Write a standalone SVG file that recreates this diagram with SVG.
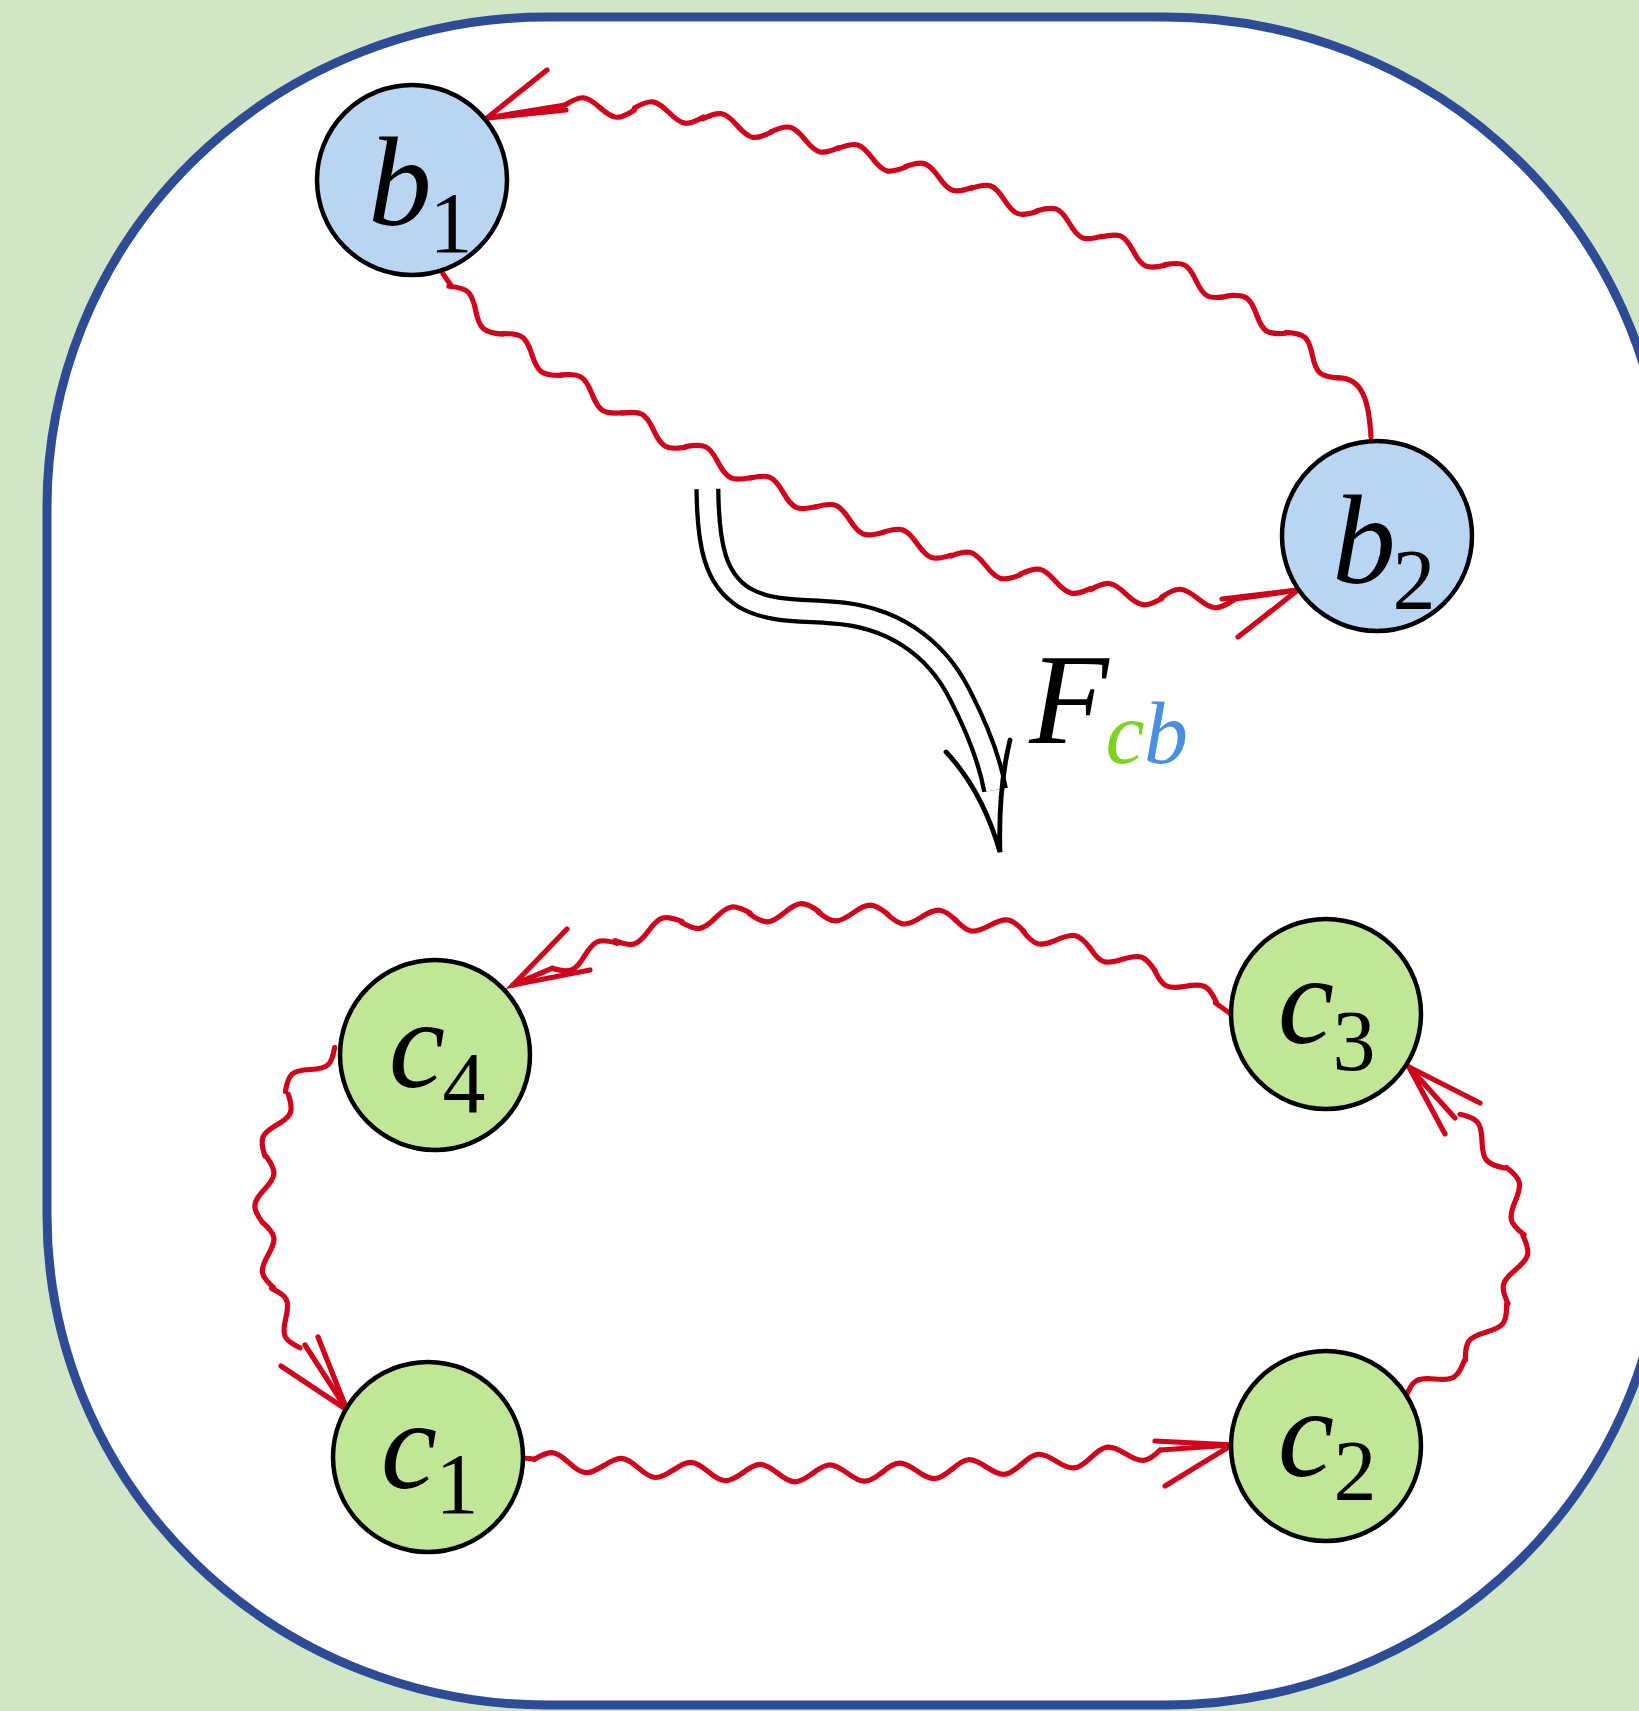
<svg xmlns="http://www.w3.org/2000/svg" width="1639" height="1711" viewBox="0 0 1639 1711">
<style>
.bg{fill:#d0e6c6}
.frame{fill:#ffffff;stroke:#2e4b96;stroke-width:9}
.nb{fill:#b9d5f3;stroke:#000;stroke-width:4.5}
.nc{fill:#c1e697;stroke:#000;stroke-width:4.5}
.lbl{font-family:"Liberation Serif","DejaVu Serif",serif;font-style:italic;fill:#000}
.sub{font-family:"Liberation Serif","DejaVu Serif",serif;fill:#000}
.wave{fill:none;stroke:#d0021b;stroke-width:5.2;stroke-linecap:round;stroke-linejoin:round}
.base{fill:none;stroke:none}
.tail{fill:none;stroke:#d0021b;stroke-width:5.2;stroke-linecap:round}
.head{fill:none;stroke:#d0021b;stroke-width:5.2;stroke-linecap:round;stroke-linejoin:miter}
.dblo{fill:none;stroke:#000;stroke-width:26}
.dbli{fill:none;stroke:#fff;stroke-width:17.5}
.dblh{fill:none;stroke:#000;stroke-width:4.8;stroke-linecap:round;stroke-linejoin:miter}
</style>
<defs>
<marker id="w69L" markerUnits="userSpaceOnUse" orient="auto" viewBox="-50 -50 100 100" markerWidth="100" markerHeight="100" refX="0" refY="0" overflow="visible"><path class="wave" d="M-34.7,0 C-19.97,-11.33 -14.73,-11.33 0,0 S19.97,11.33 34.7,0"/></marker>
<marker id="w69R" markerUnits="userSpaceOnUse" orient="auto" viewBox="-50 -50 100 100" markerWidth="100" markerHeight="100" refX="0" refY="0" overflow="visible"><path class="wave" d="M-34.7,0 C-19.97,11.33 -14.73,11.33 0,0 S19.97,-11.33 34.7,0"/></marker>
<marker id="w66L" markerUnits="userSpaceOnUse" orient="auto" viewBox="-50 -50 100 100" markerWidth="100" markerHeight="100" refX="0" refY="0" overflow="visible"><path class="wave" d="M-32.9,0 C-18.94,-11.33 -13.96,-11.33 0,0 S18.94,11.33 32.9,0"/></marker>
<marker id="w72L" markerUnits="userSpaceOnUse" orient="auto" viewBox="-50 -50 100 100" markerWidth="100" markerHeight="100" refX="0" refY="0" overflow="visible"><path class="wave" d="M-35.9,0 C-20.66,-11.33 -15.24,-11.33 0,0 S20.66,11.33 35.9,0"/></marker>
</defs>
<rect class="bg" x="0" y="0" width="1639" height="1711"/>
<rect id="frame" class="frame" x="47" y="17" width="1618" height="1688" rx="500" ry="490"/>

<g id="connectors">
  <!-- b2 -> b1 -->
  <path class="tail" d="M1371,437 C1369,400 1362,378 1338.5,377.9"/>
  <path class="base" style="marker-mid:url(#w69L)" d="M1360.3,404.4 L1312.3,355.1 L1256.5,314.5 L1196.0,280.5 L1133.2,251.1 L1069.5,223.5 L1004.3,199.8 L938.7,177.0 L872.0,157.8 L805.0,139.6 L737.1,125.5 L668.9,112.5 L599.8,107.5 L565,105"/>
  <path class="tail" d="M565,105 L487,118"/>
  <path class="head" d="M547,70 L487,118 L566,110"/>
  <!-- b1 -> b2 -->
  <path class="tail" d="M443,274 L450.4,284.6"/>
  <path class="base" style="marker-mid:url(#w72L)" d="M450.4,284.6 L475.6,310.2 L531.9,354.5 L591.9,393.8 L653.7,430.3 L718.0,462.2 L783.1,492.4 L849.5,519.7 L917.2,543.7 L985.6,565.5 L1055.5,581.2 L1126.1,594.1 L1197.7,598.5 L1233.6,599.3"/>
  <path class="tail" d="M1233.6,599.3 L1298,590"/>
  <path class="head" d="M1222,599 L1298,590 L1238,637"/>
  <!-- c3 -> c4 -->
  <path class="tail" d="M1231,1014 L1215.5,1003"/>
  <path class="base" style="marker-mid:url(#w69R)" d="M1214.8,1004.1 L1185.5,986.2 L1122.5,959.3 L1056.7,939.8 L989.6,925.5 L921.4,917.1 L852.9,913.0 L784.3,912.7 L715.7,917.7 L648.4,931.0 L584.6,955.8 L552.5,968.2"/>
  <path class="tail" d="M552.5,968.2 L513,985"/>
  <path class="head" d="M567,929 L513,985 L590,970"/>
  <!-- c4 -> c1 -->
  <path class="base" style="marker-mid:url(#w66L)" d="M340,1056 L310.0,1069.5 L276.6,1125.1 L264.4,1189.5 L268.1,1255.0 L285.8,1318.1 L305,1345"/>
  <path class="tail" d="M305,1345 L347,1410"/>
  <path class="head" d="M318,1337 L347,1410 L281,1366"/>
  <!-- c1 -> c2 -->
  <path class="tail" d="M523,1458 L534,1459"/>
  <path class="base" style="marker-mid:url(#w69L)" d="M534,1459 L568.8,1462.6 L638.4,1467.9 L708,1471.5 L777.6,1473.1 L847.2,1473.0 L916.8,1470.9 L986.4,1467.0 L1056,1461.1 L1125.6,1453.7 L1160.4,1450"/>
  <path class="tail" d="M1160.4,1450 L1232,1445"/>
  <path class="head" d="M1155,1441 L1232,1445 L1165,1486"/>
  <!-- c2 -> c3 -->
  <path class="base" style="marker-mid:url(#w69L)" d="M1403,1392 L1435.0,1379.0 L1486.0,1332.2 L1515.5,1269.7 L1515.3,1201.1 L1482.0,1141.2 L1455,1118"/>
  <path class="tail" d="M1455,1118 L1409,1067"/>
  <path class="head" d="M1480,1103 L1409,1067 L1445,1134"/>
</g>

<g id="functor-arrow">
  <path class="dblo" d="M707.4,489 C708,545 715,580 745,598 C770,612 800,610 832,612.5 C890,616 935,645 960,695 C978,730 990,762 995,790"/>
  <path class="dbli" d="M707.4,486 L707.4,489 C708,545 715,580 745,598 C770,612 800,610 832,612.5 C890,616 935,645 960,695 C978,730 990,762 995,790"/>
  <path class="dblh" d="M946,752 Q982,790 1000,852 Q998,790 1010,740"/>
  <text class="lbl" x="1069" y="743" font-size="130" text-anchor="middle">F</text>
  <text class="lbl" x="1125" y="763" font-size="88" text-anchor="middle" style="fill:#7ed321">c</text>
  <text class="lbl" x="1166" y="763" font-size="88" text-anchor="middle" style="fill:#4a90e2">b</text>
</g>

<g id="b1">
  <circle class="nb" cx="412" cy="180" r="95"/>
  <text class="lbl" x="400" y="225" font-size="127" text-anchor="middle">b</text>
  <text class="sub" x="451" y="252" font-size="86" text-anchor="middle">1</text>
</g>
<g id="b2">
  <circle class="nb" cx="1377" cy="536" r="95"/>
  <text class="lbl" x="1364" y="583" font-size="127" text-anchor="middle">b</text>
  <text class="sub" x="1414" y="609" font-size="86" text-anchor="middle">2</text>
</g>
<g id="c4">
  <circle class="nc" cx="435" cy="1055" r="95"/>
  <text class="lbl" x="417" y="1087" font-size="127" text-anchor="middle">c</text>
  <text class="sub" x="464" y="1112" font-size="86" text-anchor="middle">4</text>
</g>
<g id="c3">
  <circle class="nc" cx="1326" cy="1014" r="95"/>
  <text class="lbl" x="1306" y="1043" font-size="127" text-anchor="middle">c</text>
  <text class="sub" x="1354" y="1070" font-size="86" text-anchor="middle">3</text>
</g>
<g id="c1">
  <circle class="nc" cx="428" cy="1457" r="95"/>
  <text class="lbl" x="409" y="1488" font-size="127" text-anchor="middle">c</text>
  <text class="sub" x="457" y="1513" font-size="86" text-anchor="middle">1</text>
</g>
<g id="c2">
  <circle class="nc" cx="1326" cy="1446" r="95"/>
  <text class="lbl" x="1306" y="1476" font-size="127" text-anchor="middle">c</text>
  <text class="sub" x="1355" y="1500" font-size="86" text-anchor="middle">2</text>
</g>
</svg>
